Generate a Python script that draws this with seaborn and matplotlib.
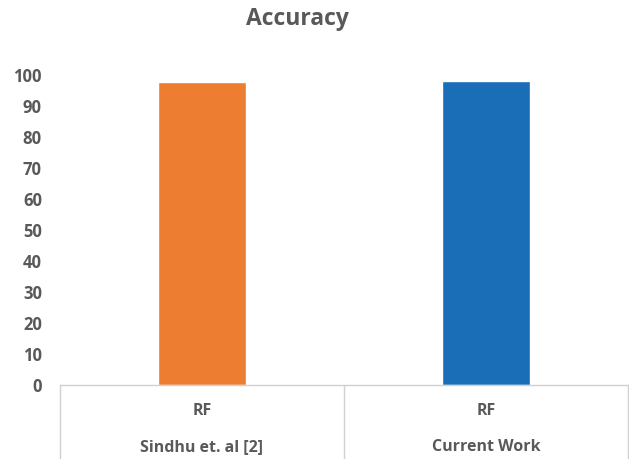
import matplotlib
matplotlib.use("Agg")
import matplotlib.pyplot as plt
import seaborn as sns
import pandas as pd

# Values
methods = ["RF", "RF"]
sources = ["Sindhu et. al [2]", "Current Work"]
accuracy = [97.9, 98.2]
bar_colors = ["#ED7D31", "#1A6EB8"]
y_ticks = [0, 10, 20, 30, 40, 50, 60, 70, 80, 90, 100]

sns.set_theme(style="white")
plt.rcParams["font.family"] = ["Open Sans", "DejaVu Sans"]

TEXT = "#595959"
LINE = "#D0D0D0"

df = pd.DataFrame({"source": sources, "method": methods, "accuracy": accuracy})

fig = plt.figure(figsize=(6.29, 4.59), dpi=100)
W, H = 629, 459
ax = fig.add_axes([60 / W, (H - 385) / H, 568 / W, 310 / H])

sns.barplot(data=df, x="source", y="accuracy", hue="source", palette=bar_colors,
            width=0.31, legend=False, ax=ax, saturation=1)

ax.set_ylim(0, 100)
ax.set_xlim(-0.5, 1.5)
ax.set_yticks(y_ticks)
ax.set_yticklabels([str(t) for t in y_ticks], fontsize=12, fontweight="bold", color=TEXT)
ax.tick_params(axis="y", length=0, pad=13)
ax.set_xticks([])
ax.set_xlabel("")
ax.set_ylabel("")
for side in ["top", "right", "left"]:
    ax.spines[side].set_visible(False)
ax.spines["bottom"].set_color(LINE)
ax.spines["bottom"].set_linewidth(1.0)

# Two-level category table below the axis
tr = ax.get_xaxis_transform()
depth = 80 / 310
for xv in [-0.5, 0.5, 1.5]:
    ax.plot([xv, xv], [0, -depth], transform=tr, color=LINE, lw=1.0, clip_on=False)
for i, (m, s) in enumerate(zip(methods, sources)):
    ax.annotate(m, xy=(i, 0), xycoords=tr, xytext=(0, -19), textcoords="offset points",
                ha="center", va="center", fontsize=11.5, fontweight="bold", color=TEXT)
    ax.annotate(s, xy=(i, 0), xycoords=tr, xytext=(0, -44.5), textcoords="offset points",
                ha="center", va="center", fontsize=11.5, fontweight="bold", color=TEXT)

fig.text(297 / W, 1 - 19 / H, "Accuracy", ha="center", va="center",
         fontsize=16.5, fontweight="bold", color=TEXT)

fig.savefig("out.png", dpi=100, facecolor="white")
